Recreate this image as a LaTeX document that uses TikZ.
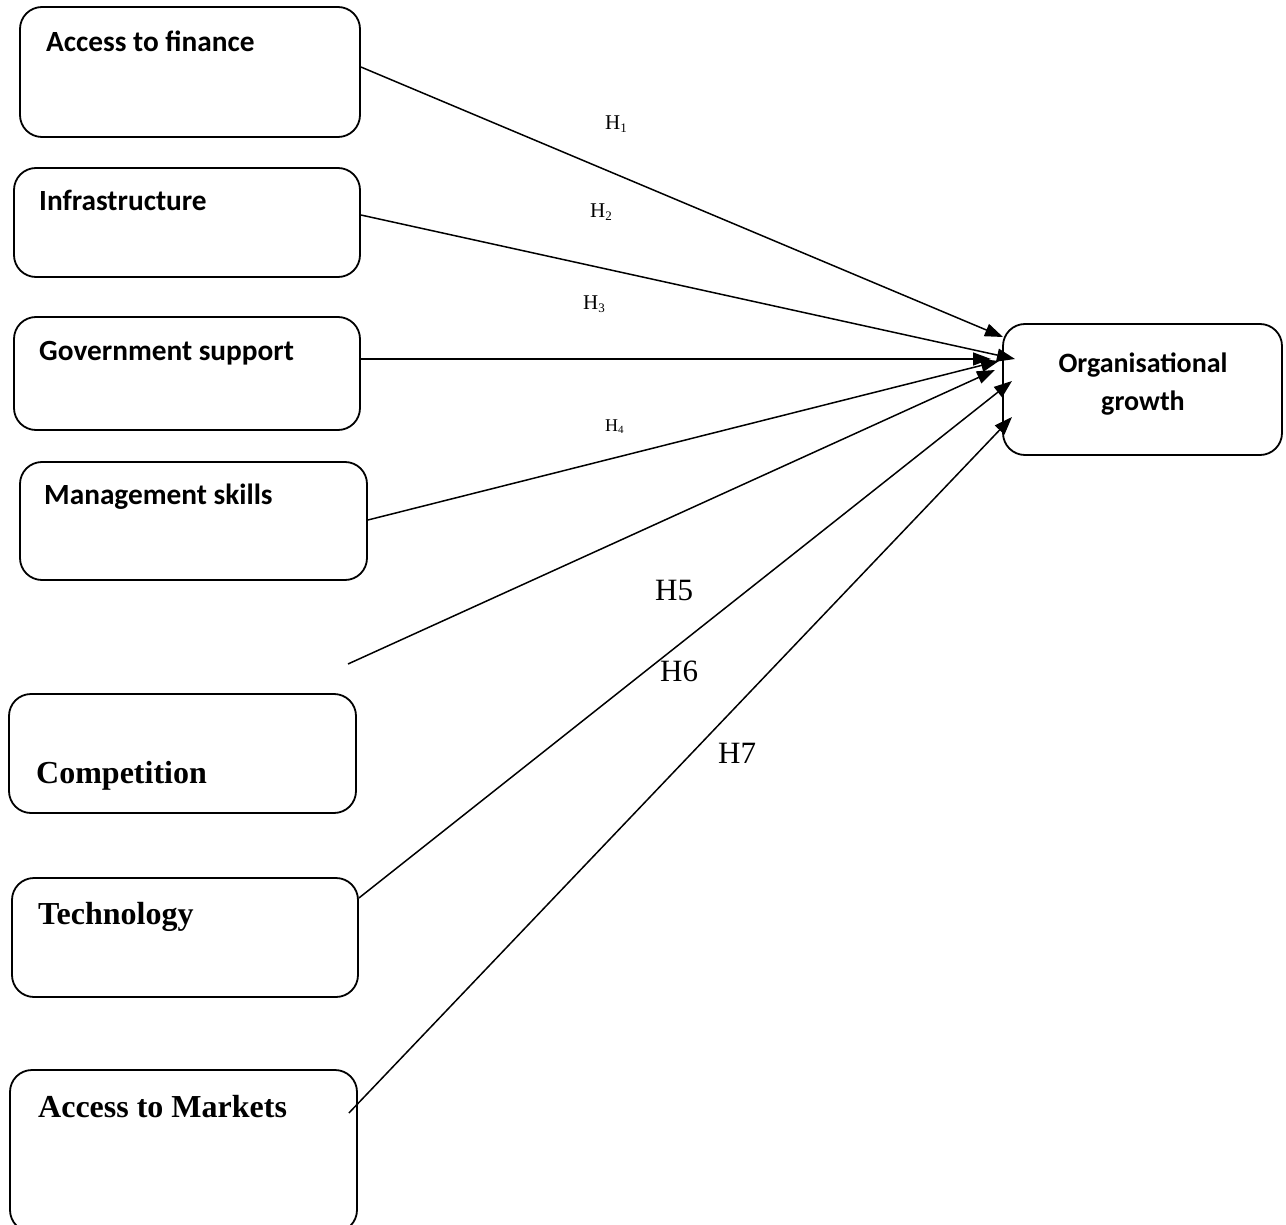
\documentclass[tikz,border=0pt]{standalone}
\usepackage{fontspec}
\setmainfont{Liberation Serif}
\newfontfamily\calfont{Carlito}
\usetikzlibrary{arrows.meta}
\begin{document}
\begin{tikzpicture}[x=1pt,y=-1pt,
  box/.style={draw, line width=1.8pt, rounded corners=22pt, inner sep=0pt},
  sanslab/.style={anchor=base west, inner sep=0pt, font=\calfont\bfseries\fontsize{29.3}{34}\selectfont},
  seriflab/.style={anchor=base west, inner sep=0pt, font=\bfseries\fontsize{32}{36}\selectfont},
  hsmall/.style={anchor=base west, inner sep=0pt, font=\fontsize{21}{25}\selectfont},
  hbig/.style={anchor=base west, inner sep=0pt, font=\fontsize{31}{36}\selectfont},
  conn/.style={line width=1.5pt, -{Triangle[length=18pt,width=13pt]}}
]
\useasboundingbox (0,0) rectangle (1286,1225);

% boxes
\node[box, minimum width=340pt, minimum height=130pt] (fin) at (190,72) {};
\node[box, minimum width=346pt, minimum height=109pt] (inf) at (187,222.5) {};
\node[box, minimum width=346pt, minimum height=113pt] (gov) at (187,373.5) {};
\node[box, minimum width=347pt, minimum height=118pt] (mgt) at (193.5,521) {};
\node[box, minimum width=347pt, minimum height=119pt] (comp) at (182.5,753.5) {};
\node[box, minimum width=346pt, minimum height=119pt] (tech) at (185,937.5) {};
\node[box, minimum width=347pt, minimum height=162pt] (mkt) at (183.5,1151) {};
\node[box, minimum width=279pt, minimum height=131pt] (org) at (1142.5,389.5) {};

% box texts
\node[align=center, inner sep=0pt, font=\calfont\bfseries\fontsize{28}{38}\selectfont] (torg) at (1143,384) {Organisational\\growth};
\node[sanslab] (tfin) at (46,52) {Access to finance};
\node[sanslab] (tinf) at (39,211) {Infrastructure};
\node[sanslab] (tgov) at (39,360) {Government support};
\node[sanslab] (tmgt) at (44,504) {Management skills};
\node[seriflab] (tcomp) at (36,783) {Competition};
\node[seriflab] (ttech) at (38,924) {Technology};
\node[seriflab] (tmkt) at (38,1117) {Access to Markets};

% connector ends
\coordinate (t1) at (1003,337);
\coordinate (t2) at (1015,359);
\coordinate (t3) at (991,359);
\coordinate (t4) at (999,361);
\coordinate (t5) at (995,370);
\coordinate (t6) at (1012,381);
\coordinate (t7) at (1012,417);
\coordinate (s5) at (348,664);

\draw[conn] ([yshift=5pt]fin.east) -- (t1);
\draw[conn] ([yshift=7.5pt]inf.east) -- (t2);
\draw[conn] ([yshift=14.5pt]gov.east) -- (t3);
\draw[conn] ([yshift=1pt]mgt.east) -- (t4);
\draw[conn] (s5) -- (t5);
\draw[conn] ([yshift=39.5pt]tech.east) -- (t6);
\draw[conn] ([xshift=-9pt,yshift=38pt]mkt.east) -- (t7);

% hypothesis labels
\node[hsmall] (h1) at (605,130) {H\raisebox{-3pt}{\fontsize{13}{13}\selectfont 1}};
\node[hsmall] (h2) at (590,218) {H\raisebox{-3pt}{\fontsize{13}{13}\selectfont 2}};
\node[hsmall] (h3) at (583,309) {H\raisebox{-3pt}{\fontsize{13}{13}\selectfont 3}};
\node[hsmall, font=\fontsize{18}{22}\selectfont] (h4) at (605,431) {H\raisebox{-2.5pt}{\fontsize{11}{11}\selectfont 4}};
\node[hbig] (h5) at (655,600) {H5};
\node[hbig] (h6) at (660,681) {H6};
\node[hbig] (h7) at (718,763) {H7};
\end{tikzpicture}
\end{document}
